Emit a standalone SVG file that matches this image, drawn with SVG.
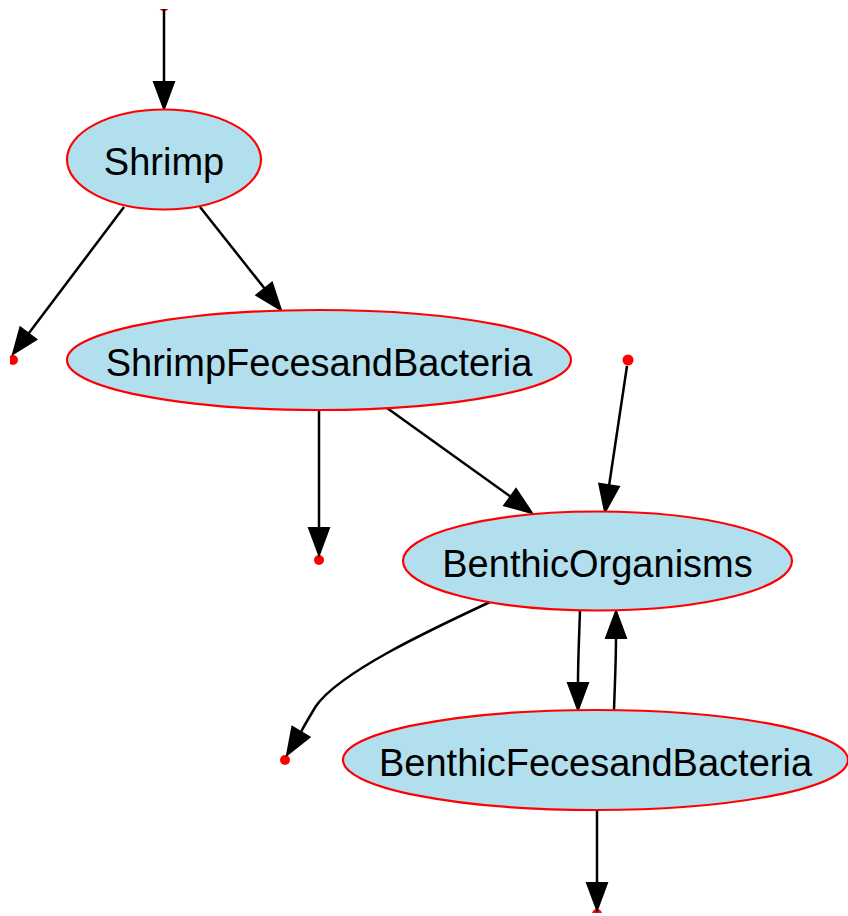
<svg xmlns="http://www.w3.org/2000/svg" width="848" height="916" viewBox="0 0 848 916">
<style>
.node ellipse{fill:#b2dfee;stroke:#ff0000;stroke-width:2.2}
.node text{font-family:"Liberation Sans",Arial,sans-serif;font-size:38px;fill:#000;text-anchor:middle}
.edge path{fill:none;stroke:#000;stroke-width:2.5}
.edge polygon{fill:#000;stroke:#000;stroke-width:2}
.dot{fill:#ff0000}
</style>
<defs>
<clipPath id="crop"><rect x="10" y="9" width="838" height="904"/></clipPath>
</defs>
<rect width="848" height="916" fill="#fff"/>
<g clip-path="url(#crop)">
<g id="points">
<circle class="dot" cx="164" cy="5.5" r="5.5"/>
<circle class="dot" cx="13" cy="360" r="5"/>
<circle class="dot" cx="628" cy="360" r="5.5"/>
<circle class="dot" cx="319" cy="560" r="5"/>
<circle class="dot" cx="285" cy="760" r="5"/>
<circle class="dot" cx="597" cy="914" r="5"/>
</g>
<g id="connectors" class="edge">
<path d="M164,9 L164,83"/>
<polygon points="164,109 154,82 174,82"/>
<path d="M124,207 L29,333"/>
<polygon points="13,354 36.3,339.4 20.3,327.4"/>
<path d="M200,207 L265,289"/>
<polygon points="281,310 272,282.7 256.4,295.1"/>
<path d="M319,410 L319,529"/>
<polygon points="319,555 309,528 329,528"/>
<path d="M387,408 L511,497"/>
<polygon points="532,513 516,489.1 504.2,505.3"/>
<path d="M627,366 L609,486"/>
<polygon points="605,512 618.9,486.8 599.2,483.8"/>
<path d="M490,602 C430,630 340,672 316,706 C310,716 305,724 301,732"/>
<polygon points="287,755 309.5,737 292.3,726.8"/>
<path d="M580,611 C579,640 578,660 578,684"/>
<polygon points="578,710 568,683 588,683"/>
<path d="M614,710 C615,680 616,660 616,637"/>
<polygon points="616,611 606,638 626,638"/>
<path d="M597,810 L597,884"/>
<polygon points="597,910 587,883 607,883"/>
</g>
<g id="Shrimp" class="node">
<ellipse cx="164" cy="159.5" rx="97" ry="50"/>
<text x="164" y="175">Shrimp</text>
</g>
<g id="ShrimpFecesandBacteria" class="node">
<ellipse cx="319" cy="360" rx="252" ry="50"/>
<text x="319" y="375.5">ShrimpFecesandBacteria</text>
</g>
<g id="BenthicOrganisms" class="node">
<ellipse cx="597.5" cy="561" rx="194.5" ry="49.5"/>
<text x="597.5" y="576.5">BenthicOrganisms</text>
</g>
<g id="BenthicFecesandBacteria" class="node">
<ellipse cx="595.5" cy="760" rx="252.5" ry="50"/>
<text x="595.5" y="775.5">BenthicFecesandBacteria</text>
</g>
</g>
</svg>
